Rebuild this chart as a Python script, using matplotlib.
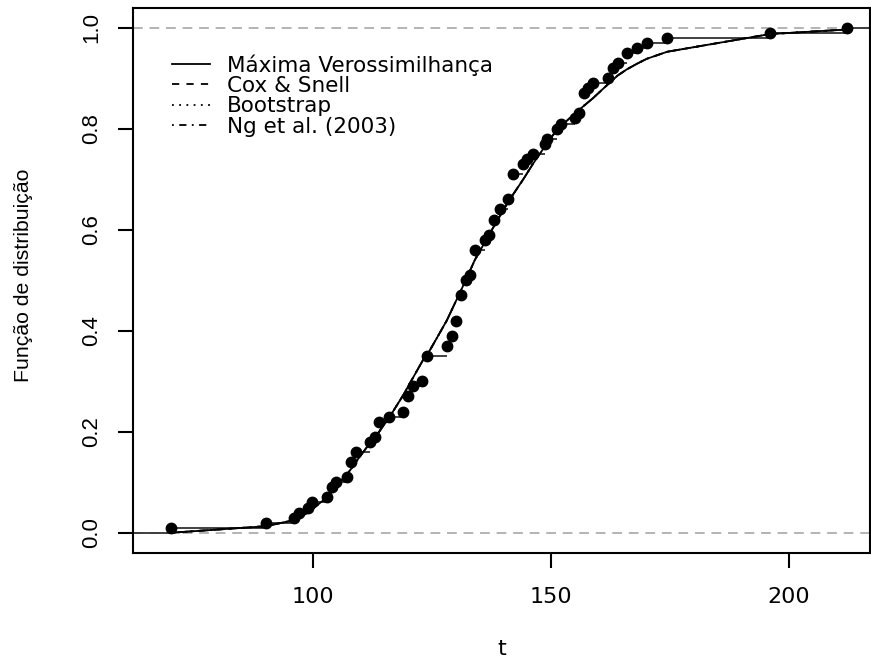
import matplotlib
matplotlib.use("Agg")
import matplotlib.pyplot as plt
import numpy as np

t_obs = [70.1, 90.1, 96.0, 97.1, 99.0, 99.9, 102.9, 103.9, 104.8, 107.1,
         107.9, 109.0, 112.0, 113.0, 113.9, 116.0, 119.0, 120.0, 121.1, 123.0,
         124.0, 128.1, 129.1, 130.0, 131.0, 132.1, 133.0, 134.0, 136.1, 137.0,
         138.1, 139.2, 141.0, 142.1, 144.2, 145.0, 146.2, 148.7, 149.1, 151.2,
         152.0, 155.0, 155.9, 156.9, 157.8, 158.8, 162.0, 163.0, 164.0, 165.9,
         168.0, 170.1, 174.4, 196.0, 212.1]
F_obs = [0.01, 0.02, 0.03, 0.04, 0.05, 0.06, 0.07, 0.09, 0.10, 0.11,
         0.14, 0.16, 0.18, 0.19, 0.22, 0.23, 0.24, 0.27, 0.29, 0.30,
         0.35, 0.37, 0.39, 0.42, 0.47, 0.50, 0.51, 0.56, 0.58, 0.59,
         0.62, 0.64, 0.66, 0.71, 0.73, 0.74, 0.75, 0.77, 0.78, 0.80,
         0.81, 0.82, 0.83, 0.87, 0.88, 0.89, 0.90, 0.92, 0.93, 0.95,
         0.96, 0.97, 0.98, 0.99, 1.00]

# fitted distribution functions (they overlap in the picture)
t_fit = [70.1, 90.1, 96.0, 99.0, 102.9, 104.8, 107.9, 109.0, 112.0, 113.9,
         116.0, 119.0, 120.0, 123.0, 124.0, 128.1, 130.0, 132.1, 134.0, 137.0,
         139.2, 141.0, 144.2, 146.2, 149.1, 151.2, 155.0, 156.9, 158.8, 162.0,
         164.0, 165.9, 168.0, 170.1, 174.4, 196.0, 212.1]
F_mv = [0.000, 0.013, 0.025, 0.040, 0.070, 0.090, 0.125, 0.140, 0.178, 0.200,
        0.228, 0.273, 0.290, 0.340, 0.352, 0.420, 0.458, 0.500, 0.540, 0.590,
        0.626, 0.655, 0.700, 0.730, 0.770, 0.797, 0.830, 0.845, 0.860, 0.888,
        0.905, 0.917, 0.928, 0.938, 0.952, 0.987, 0.996]
F_cs = list(F_mv)
F_boot = list(F_mv)
F_ng = list(F_mv)

labels = ["Máxima Verossimilhança", "Cox & Snell", "Bootstrap", "Ng et al. (2003)"]

plt.rcParams['font.family'] = ['DejaVu Sans']

fig = plt.figure(figsize=(8.71, 6.62), dpi=100)
W, H = 871, 662
ax = fig.add_axes([133 / W, 1 - 553 / H, 737 / W, 544.7 / H])

xmin, xmax = 62.2, 217.0
ax.set_xlim(xmin, xmax)
ax.set_ylim(-0.040, 1.038)

# gray reference lines at 0 and 1
for h in (0, 1):
    ax.axhline(h, color='#b3b3b3', lw=1.4, ls=(0, (5, 3.5)), zorder=1)

# ecdf steps
xs = [xmin] + t_obs
xe = t_obs + [xmax]
ys = [0.0] + F_obs
ax.hlines(ys, xs, xe, color='#333333', lw=1.3, zorder=2)
ax.plot(t_obs, F_obs, 'o', color='black', ms=7.5, zorder=4)

# fitted curves
styles = ['-', (0, (4, 4)), (0, (1, 3)), (0, (1, 3, 4, 3))]
handles = []
for F, ls, lab in zip([F_mv, F_cs, F_boot, F_ng], styles, labels):
    h, = ax.plot(t_fit, F, color='black', lw=1.3, ls=ls, label=lab, zorder=3)
    handles.append(h)

leg = ax.legend(handles=handles, loc='upper left', frameon=False,
                bbox_to_anchor=(172 / W, 1 - 54 / H), bbox_transform=fig.transFigure,
                borderpad=0, borderaxespad=0, handlelength=1.75, handletextpad=0.8,
                labelspacing=0.02, fontsize=15.5)

# axes styling
for s in ['left', 'bottom', 'top', 'right']:
    ax.spines[s].set_linewidth(1.5)
ax.set_xticks([100, 150, 200])
ax.set_yticks([0.0, 0.2, 0.4, 0.6, 0.8, 1.0])
ax.set_yticklabels(['0.0', '0.2', '0.4', '0.6', '0.8', '1.0'])
ax.tick_params(direction='out', length=10.5, width=1.5)
ax.tick_params(axis='x', pad=14, labelsize=16)
ax.tick_params(axis='y', pad=12, labelsize=16)
for lab in ax.get_yticklabels():
    lab.set_rotation(90)
    lab.set_va('center')
    lab.set_family('Liberation Sans')

ax.set_xlabel('t', fontsize=16)
ax.set_ylabel('Função de distribuição', fontsize=15.3, family='Liberation Sans')
ax.xaxis.set_label_coords(0.5, -0.158)
ax.yaxis.set_label_coords(-0.1357, 0.51)

fig.savefig('out.png', dpi=100)
